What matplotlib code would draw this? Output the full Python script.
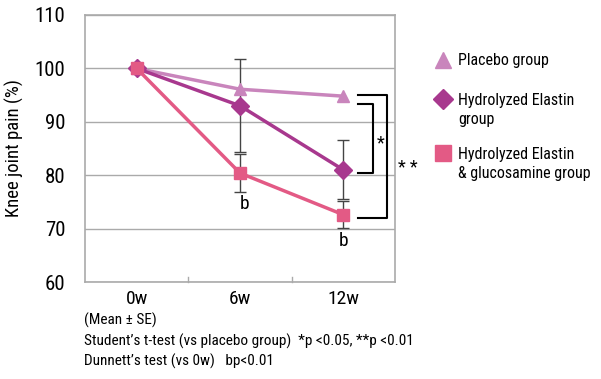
import numpy as np
import matplotlib.pyplot as plt
from matplotlib import font_manager

weeks = ['0w', '6w', '12w']
placebo = [100, 96.1, 94.8]
elastin = [100, 93.0, 81.0]
elastin_glu = [100, 80.4, 72.6]
elastin_err = [0, 8.7, 5.5]
elastin_glu_err = [0, 3.5, 2.5]
ticks_y = [60, 70, 80, 90, 100, 110]

names = set(f.name for f in font_manager.fontManager.ttflist)
fam = 'DejaVu Sans'
for cand in ['Roboto Condensed', 'Liberation Sans Narrow', 'Open Sans Condensed', 'Roboto']:
    if cand in names:
        fam = cand
        break
plt.rcParams['font.family'] = [fam, 'DejaVu Sans']

c_pl = '#C985BC'
c_el = '#A8388E'
c_gl = '#E35A85'

fig = plt.figure(figsize=(6.01, 3.79), dpi=100)
ax = fig.add_axes([85/601, 1-282/379, 310/601, 267/379])

x = np.arange(len(weeks)) + 0.5

ax.errorbar(x[1:], elastin[1:], yerr=elastin_err[1:], fmt='none', ecolor='#444444',
            elinewidth=1, capsize=4, capthick=1, zorder=2)
ax.errorbar(x[1:], elastin_glu[1:], yerr=elastin_glu_err[1:], fmt='none', ecolor='#444444',
            elinewidth=1, capsize=4, capthick=1, zorder=2)

ax.plot(x, placebo, color=c_pl, lw=2.5, marker='^', ms=9, zorder=3)
ax.plot(x, elastin, color=c_el, lw=2.5, marker='D', ms=9, zorder=4)
ax.plot(x, elastin_glu, color=c_gl, lw=2.5, marker='s', ms=9, zorder=5)

ax.set_xlim(0, 3)
ax.set_ylim(60, 110)
ax.set_yticks(ticks_y)
ax.set_yticklabels([str(t) for t in ticks_y], fontsize=15)
ax.yaxis.grid(True, color='#aaaaaa', lw=1)
ax.set_axisbelow(True)
ax.tick_params(axis='y', length=0, pad=14)
ax.set_xticks(x)
ax.set_xticklabels(weeks, fontsize=14)
ax.tick_params(axis='x', length=0, pad=6)
for b in [1, 2]:
    ax.plot([b, b], [60, 61], color='#aaaaaa', lw=1, clip_on=False)
for s in ax.spines.values():
    s.set_color('#aaaaaa')
    s.set_linewidth(1.2)
ax.set_ylabel('Knee joint pain (%)', fontsize=13.5, labelpad=8)

# significance letters
ax.text(x[1] + 0.04, 77.2 - 1.0, 'b', fontsize=14, ha='center', va='top')
ax.text(x[2], 70.1 - 0.8, 'b', fontsize=14, ha='center', va='top')

# brackets
bx0, bx1, bx2 = 2.64, 2.79, 2.92
ax.plot([bx0, bx1, bx1, bx0], [93.3, 93.3, 80.4, 80.4], color='black', lw=1.5, clip_on=False)
ax.plot([bx0, bx2, bx2, bx0], [95.0, 95.0, 71.9, 71.9], color='black', lw=1.5, clip_on=False)
ax.text(2.86, 86.0, '*', fontsize=13, ha='center', va='center')
ax.text(3.12, 81.4, '* *', fontsize=13, ha='center', va='center')

# legend
lx, tx = 443/601, 458/601
fig.add_artist(plt.Line2D([lx], [1-60/379], marker='^', ms=11, color=c_pl, ls='none'))
fig.add_artist(plt.Line2D([lx], [1-99/379], marker='D', ms=10, color=c_el, ls='none'))
fig.add_artist(plt.Line2D([lx], [1-153/379], marker='s', ms=11, color=c_gl, ls='none'))
fig.text(tx, 1-60/379, 'Placebo group', fontsize=11.5, va='center')
fig.text(tx, 1-110/379, 'Hydrolyzed Elastin\ngroup', fontsize=11.5, va='center', linespacing=1.4)
fig.text(tx, 1-164/379, 'Hydrolyzed Elastin\n& glucosamine group', fontsize=11.5, va='center', linespacing=1.4)

# notes
fig.text(84/601, 1-320/379, '(Mean ± SE)', fontsize=11, va='center')
fig.text(84/601, 1-341/379, 'Student\u2019s t-test (vs placebo group)  *p <0.05, **p <0.01', fontsize=11, va='center')
fig.text(84/601, 1-361/379, 'Dunnett\u2019s test (vs 0w)   bp<0.01', fontsize=11, va='center')

fig.savefig('out.png', dpi=100)
